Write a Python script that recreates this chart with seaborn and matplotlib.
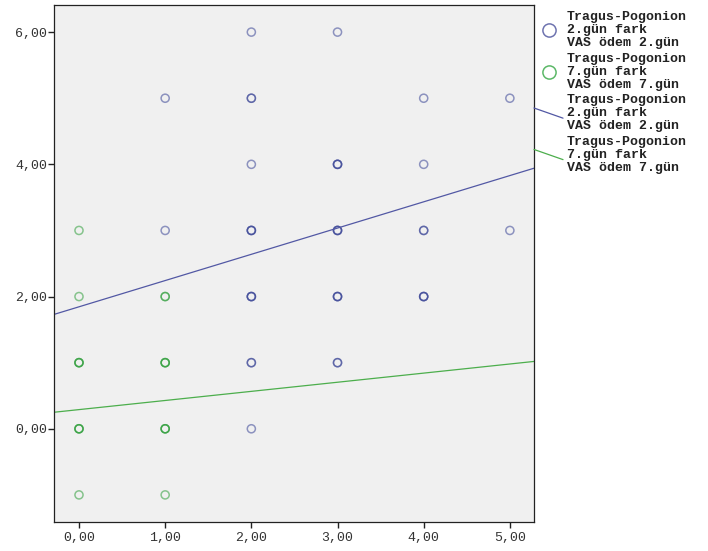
import matplotlib
matplotlib.use("Agg")
import matplotlib.pyplot as plt
from matplotlib.lines import Line2D
from matplotlib.legend_handler import HandlerLine2D
import numpy as np
import pandas as pd
import seaborn as sns

# VAS ödem (x) ve Tragus-Pogonion fark (y), her nokta için üst üste binen gözlem sayısı
gun2_x = [1, 1, 2, 2, 2, 2, 2, 2, 2, 3, 3, 3, 3, 3, 4, 4, 4, 4, 5, 5]
gun2_y = [5, 3, 6, 5, 4, 3, 2, 1, 0, 6, 4, 3, 2, 1, 5, 4, 3, 2, 5, 3]
gun2_n = [1, 1, 1, 2, 1, 3, 3, 2, 1, 1, 3, 3, 3, 2, 1, 1, 2, 3, 1, 1]

gun7_x = [0, 0, 0, 0, 0, 1, 1, 1, 1]
gun7_y = [3, 2, 1, 0, -1, 2, 1, 0, -1]
gun7_n = [1, 1, 3, 3, 1, 2, 3, 3, 1]

# doğrusal uyum çizgileri (kesişim, eğim)
fit2 = (1.845, 0.397)
fit7 = (0.290, 0.138)

etiket2 = "Tragus-Pogonion\n2.gün fark\nVAS ödem 2.gün"
etiket7 = "Tragus-Pogonion\n7.gün fark\nVAS ödem 7.gün"

x_ticks = [0, 1, 2, 3, 4, 5]
y_ticks = [0, 2, 4, 6]

mavi = "#3a4596"
yesil = "#2e9e3a"

sns.set_style("ticks")
plt.rcParams["font.family"] = ["Liberation Mono", "DejaVu Sans Mono"]

df = pd.concat([
    pd.DataFrame({"x": np.repeat(gun2_x, gun2_n), "y": np.repeat(gun2_y, gun2_n), "seri": "2"}),
    pd.DataFrame({"x": np.repeat(gun7_x, gun7_n), "y": np.repeat(gun7_y, gun7_n), "seri": "7"}),
])

fig = plt.figure(figsize=(7.08, 5.51), dpi=100)
ax = fig.add_axes([54 / 708, 1 - 522 / 551, 480 / 708, 517 / 551])
ax.set_facecolor("#f0f0f0")

sns.scatterplot(data=df, x="x", y="y", hue="seri", palette={"2": mavi, "7": yesil},
                s=34, alpha=0.55, linewidth=1.1, legend=False, ax=ax)
# içi boş halkalar
coll = ax.collections[0]
coll.set_edgecolors(coll.get_facecolors())
coll.set_facecolors("none")

xlim = (-0.29, 5.28)
ylim = (-1.41, 6.41)
xs = np.array(xlim)
ax.plot(xs, fit2[0] + fit2[1] * xs, color="#5258a4", lw=0.9)
ax.plot(xs, fit7[0] + fit7[1] * xs, color="#4cae4c", lw=0.9)

ax.set_xlim(*xlim)
ax.set_ylim(*ylim)
ax.set_xticks(x_ticks)
ax.set_yticks(y_ticks)
ax.set_xticklabels([f"{v:.2f}".replace(".", ",") for v in x_ticks])
ax.set_yticklabels([f"{v:.2f}".replace(".", ",") for v in y_ticks])
ax.set_xlabel("")
ax.set_ylabel("")
ax.tick_params(length=4.5, width=1, color="#222222", labelsize=9.5, labelcolor="#333333", pad=3)
ax.tick_params(axis="y", pad=0.5)
for sp in ax.spines.values():
    sp.set_color("#222222")
    sp.set_linewidth(0.9)


class CaprazCizgi(HandlerLine2D):
    # SPSS tarzı eğik lejant çizgisi
    def create_artists(self, legend, orig_handle, xdescent, ydescent,
                       width, height, fontsize, trans):
        line = Line2D([-xdescent, -xdescent + width], [height * 1.05, -height * 0.05],
                      color=orig_handle.get_color(), lw=orig_handle.get_linewidth(),
                      transform=trans)
        return [line]


tutamaklar = [
    Line2D([], [], marker="o", ls="", mfc="none", mec="#6f74b0", ms=9.5, mew=1.1),
    Line2D([], [], marker="o", ls="", mfc="none", mec="#5cb868", ms=9.5, mew=1.1),
    Line2D([], [], color="#5258a4", lw=0.9),
    Line2D([], [], color="#4cae4c", lw=0.9),
]
leg = ax.legend(tutamaklar, [etiket2, etiket7, etiket2, etiket7],
                loc="upper left", bbox_to_anchor=(1.0, 0.988), frameon=False,
                borderpad=0, borderaxespad=0, handlelength=2.2, handletextpad=0.3,
                labelspacing=0.25, prop={"family": "Liberation Mono", "weight": "bold", "size": 9.5},
                handler_map={tutamaklar[2]: CaprazCizgi(), tutamaklar[3]: CaprazCizgi()})
for t in leg.get_texts():
    t.set_linespacing(1.12)
    t.set_color("#222222")

fig.savefig("out.png", dpi=100, facecolor="white")
